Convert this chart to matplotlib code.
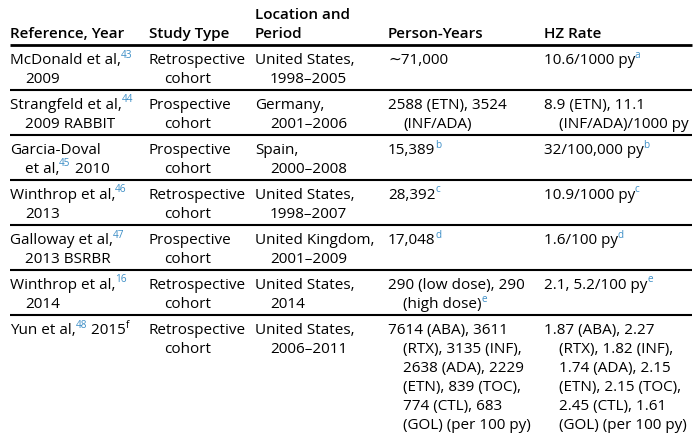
import re
import matplotlib
matplotlib.use("Agg")
import matplotlib.pyplot as plt

FONT = ["Open Sans", "DejaVu Sans"]
FS = 11.0
SUP_FS = 7.2
BLUE = "#3d8ec6"
INK = "#000000"

# column starts (px) and table extents
COL_X = [10, 149, 255, 388, 544]
TABLE_L, TABLE_R = 10, 692
HEADER_RULE = 45
LINE_H = 19
ROW_PAD = 7

headers = [["Reference, Year"], ["Study Type"], ["Location and", "Period"],
           ["Person-Years"], ["HZ Rate"]]

# {x} = blue superscript, <x> = black superscript
references = [
    ["McDonald et al,{43}", "2009"],
    ["Strangfeld et al,{44}", "2009 RABBIT"],
    ["Garcia-Doval", "et al,{45} 2010"],
    ["Winthrop et al,{46}", "2013"],
    ["Galloway et al,{47}", "2013 BSRBR"],
    ["Winthrop et al,{16}", "2014"],
    ["Yun et al,{48} 2015<f>"],
]
study_types = [
    ["Retrospective", "cohort"],
    ["Prospective", "cohort"],
    ["Prospective", "cohort"],
    ["Retrospective", "cohort"],
    ["Prospective", "cohort"],
    ["Retrospective", "cohort"],
    ["Retrospective", "cohort"],
]
locations = [
    ["United States,", "1998\u20132005"],
    ["Germany,", "2001\u20132006"],
    ["Spain,", "2000\u20132008"],
    ["United States,", "1998\u20132007"],
    ["United Kingdom,", "2001\u20132009"],
    ["United States,", "2014"],
    ["United States,", "2006\u20132011"],
]
person_years = [
    ["\u223c71,000"],
    ["2588 (ETN), 3524", "(INF/ADA)"],
    ["15,389{b}"],
    ["28,392{c}"],
    ["17,048{d}"],
    ["290 (low dose), 290", "(high dose){e}"],
    ["7614 (ABA), 3611", "(RTX), 3135 (INF),", "2638 (ADA), 2229",
     "(ETN), 839 (TOC),", "774 (CTL), 683", "(GOL) (per 100 py)"],
]
hz_rates = [
    ["10.6/1000 py{a}"],
    ["8.9 (ETN), 11.1", "(INF/ADA)/1000 py"],
    ["32/100,000 py{b}"],
    ["10.9/1000 py{c}"],
    ["1.6/100 py{d}"],
    ["2.1, 5.2/100 py{e}"],
    ["1.87 (ABA), 2.27", "(RTX), 1.82 (INF),", "1.74 (ADA), 2.15",
     "(ETN), 2.15 (TOC),", "2.45 (CTL), 1.61", "(GOL) (per 100 py)"],
]
columns = [references, study_types, locations, person_years, hz_rates]

fig = plt.figure(figsize=(6.99, 4.38), dpi=100, facecolor="white")
ax = fig.add_axes([0, 0, 1, 1])
ax.set_xlim(0, 699); ax.set_ylim(438, 0)
ax.axis("off")
renderer = fig.canvas.get_renderer()


def draw_line(x, y, s, bold=False):
    parts = re.split(r"(\{[^}]*\}|<[^>]*>)", s)
    for p in parts:
        if not p:
            continue
        if p[0] in "{<":
            t = ax.text(x - 0.3, y - 5.5, p[1:-1], fontsize=SUP_FS, family=FONT,
                        color=BLUE if p[0] == "{" else INK, va="center", ha="left")
            x += t.get_window_extent(renderer).width
        else:
            t = ax.text(x, y, p, fontsize=FS, family=FONT, color=INK,
                        fontweight="semibold" if bold else "normal",
                        va="center", ha="left")
            x += t.get_window_extent(renderer).width


# header (bottom aligned)
for cx, lines in zip(COL_X, headers):
    n = len(lines)
    for i, ln in enumerate(lines):
        draw_line(cx, 34 - (n - 1 - i) * LINE_H, ln, bold=True)
ax.plot([TABLE_L, TABLE_R], [HEADER_RULE, HEADER_RULE], color=INK, lw=2.0,
        solid_capstyle="butt")

top = HEADER_RULE
for r in range(len(references)):
    cells = [col[r] for col in columns]
    nlines = max(len(c) for c in cells)
    for cx, cell in zip(COL_X, cells):
        for i, ln in enumerate(cell):
            draw_line(cx + (15 if i > 0 else 0), top + 15.5 + i * LINE_H, ln)
    top += nlines * LINE_H + ROW_PAD
    if r < len(references) - 1:
        ax.plot([TABLE_L, TABLE_R], [top, top], color=INK, lw=1.5,
                solid_capstyle="butt")

fig.savefig("out.png", dpi=100, facecolor="white")
